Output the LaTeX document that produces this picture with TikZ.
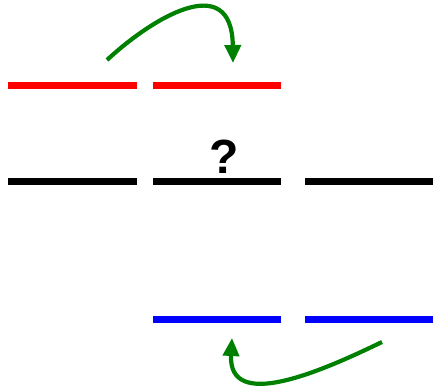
\documentclass[tikz,border=0pt]{standalone}
\usepackage{fontspec}
\setmainfont{Liberation Sans}
\usetikzlibrary{arrows.meta}
\begin{document}
\begin{tikzpicture}[x=1pt,y=-1pt,
  bar/.style={line width=7pt},
  move/.style={draw={rgb,255:red,0;green,128;blue,0},line width=4.2pt,-{Triangle[length=18pt,width=16pt]}}]
\useasboundingbox (0,0) rectangle (435,388);
\definecolor{myred}{RGB}{255,0,0}
\definecolor{myblue}{RGB}{0,0,255}
% red row
\coordinate (r1a) at (8,85); \coordinate (r1b) at (137,85);
\coordinate (r2a) at (153,85); \coordinate (r2b) at (281,85);
\draw[bar,myred] (r1a) -- (r1b);
\draw[bar,myred] (r2a) -- (r2b);
% black row
\coordinate (k1a) at (8,181); \coordinate (k1b) at (137,181);
\coordinate (k2a) at (153,181); \coordinate (k2b) at (281,181);
\coordinate (k3a) at (305,181); \coordinate (k3b) at (433,181);
\draw[bar,black] (k1a) -- (k1b);
\draw[bar,black] (k2a) -- (k2b);
\draw[bar,black] (k3a) -- (k3b);
% blue row
\coordinate (b2a) at (153,319); \coordinate (b2b) at (281,319);
\coordinate (b3a) at (305,319); \coordinate (b3b) at (433,319);
\draw[bar,myblue] (b2a) -- (b2b);
\draw[bar,myblue] (b3a) -- (b3b);
% question mark
\node[font=\bfseries\fontsize{48}{48}\selectfont,inner sep=0pt] (q) at (224,157) {?};
% arrows
\coordinate (t0) at (107,60); \coordinate (t1) at (233,63);
\draw[move] (t0) .. controls (150,20) and (232,-32) .. (t1);
\coordinate (u0) at (382,342); \coordinate (u1) at (232,338);
\draw[move] (u0) .. controls (320,372) and (228,412) .. (u1);
\end{tikzpicture}
\end{document}
